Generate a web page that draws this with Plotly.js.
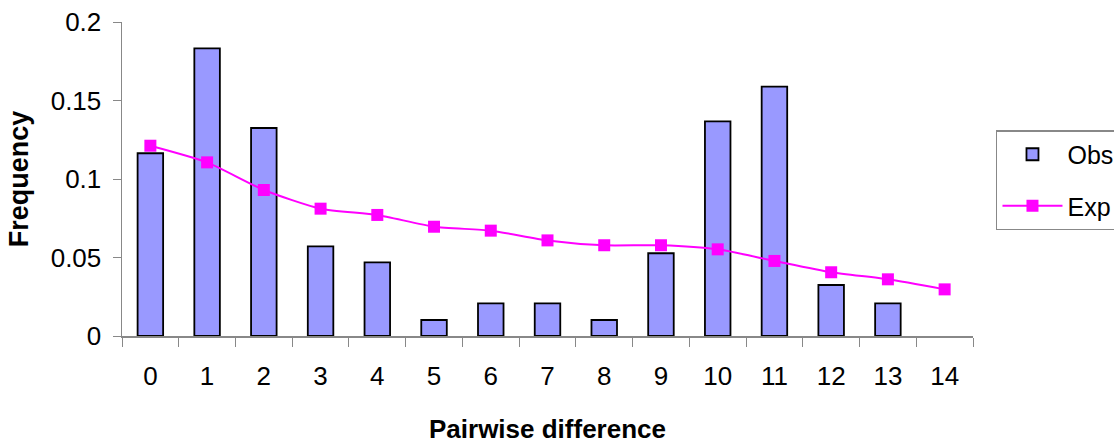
<!DOCTYPE html>
<html>
<head>
<meta charset="utf-8">
<script src="https://cdn.plot.ly/plotly-3.0.1.min.js"></script>
<style>html,body{margin:0;padding:0;background:#fff;}#chart{width:1114px;height:444px;}</style>
</head>
<body>
<div id="chart"></div>
<script>
const categories = ["0","1","2","3","4","5","6","7","8","9","10","11","12","13","14"];
const observed = [0.1164, 0.1832, 0.1325, 0.0571, 0.0469, 0.0102, 0.0208, 0.0208, 0.0102, 0.0527, 0.1367, 0.1588, 0.0325, 0.0208, 0];
const expected = [0.1212, 0.1106, 0.0930, 0.0811, 0.0771, 0.0696, 0.0671, 0.0609, 0.0578, 0.0578, 0.0552, 0.0478, 0.0406, 0.0361, 0.0297];
const seriesNames = ["Obs", "Exp"];
const yTickVals = [0, 0.05, 0.1, 0.15, 0.2];
const yTickText = ["0", "0.05", "0.1", "0.15", "0.2"];

const font = "Liberation Sans, Arial, sans-serif";
// no outline on empty bars
const barLineWidths = observed.map(v => (v > 0 ? 1.8 : 0));

const traces = [
  {
    type: "bar",
    name: seriesNames[0],
    legendgroup: "g1",
    x: categories,
    y: observed,
    width: 0.45,
    marker: {color: "#9999FF", line: {color: "#000000", width: barLineWidths}}
  },
  {
    type: "scatter",
    mode: "lines+markers",
    name: seriesNames[1],
    legendgroup: "g2",
    x: categories,
    y: expected,
    line: {color: "#FF00FF", width: 2, shape: "spline", smoothing: 0.6},
    marker: {symbol: "square", size: 12, color: "#FF00FF"}
  }
];

const layout = {
  width: 1114,
  height: 444,
  margin: {l: 122, r: 141, t: 22, b: 108, autoexpand: false},
  paper_bgcolor: "#ffffff",
  plot_bgcolor: "#ffffff",
  font: {family: font, color: "#000000", size: 25},
  showlegend: true,
  legend: {
    x: 1.027, y: 0.656, xanchor: "left", yanchor: "top",
    bgcolor: "#ffffff", bordercolor: "#888888", borderwidth: 1.5,
    font: {family: font, size: 25, color: "#000"},
    traceorder: "grouped",
    tracegroupgap: 16,
    itemwidth: 60,
    entrywidth: 160
  },
  xaxis: {
    type: "category",
    range: [-0.5, 14.5],
    tickson: "boundaries",
    ticks: "outside",
    ticklen: 9,
    tickcolor: "#888888",
    ticklabelstandoff: 16,
    showline: true,
    linecolor: "#888888",
    linewidth: 1.5,
    showgrid: false,
    zeroline: false,
    tickfont: {family: font, size: 26},
    title: {text: "<b>Pairwise difference</b>", font: {family: font, size: 26}, standoff: 34}
  },
  yaxis: {
    range: [0, 0.2],
    tickvals: yTickVals,
    ticktext: yTickText,
    ticks: "outside",
    ticklen: 8,
    tickcolor: "#888888",
    ticklabelstandoff: 6,
    showline: true,
    linecolor: "#888888",
    linewidth: 1.5,
    showgrid: false,
    zeroline: false,
    tickfont: {family: font, size: 26},
    title: {text: "<b>Frequency</b>", font: {family: font, size: 27}, standoff: 14}
  }
};

Plotly.newPlot("chart", traces, layout, {displayModeBar: false, staticPlot: true});
</script>
</body>
</html>
